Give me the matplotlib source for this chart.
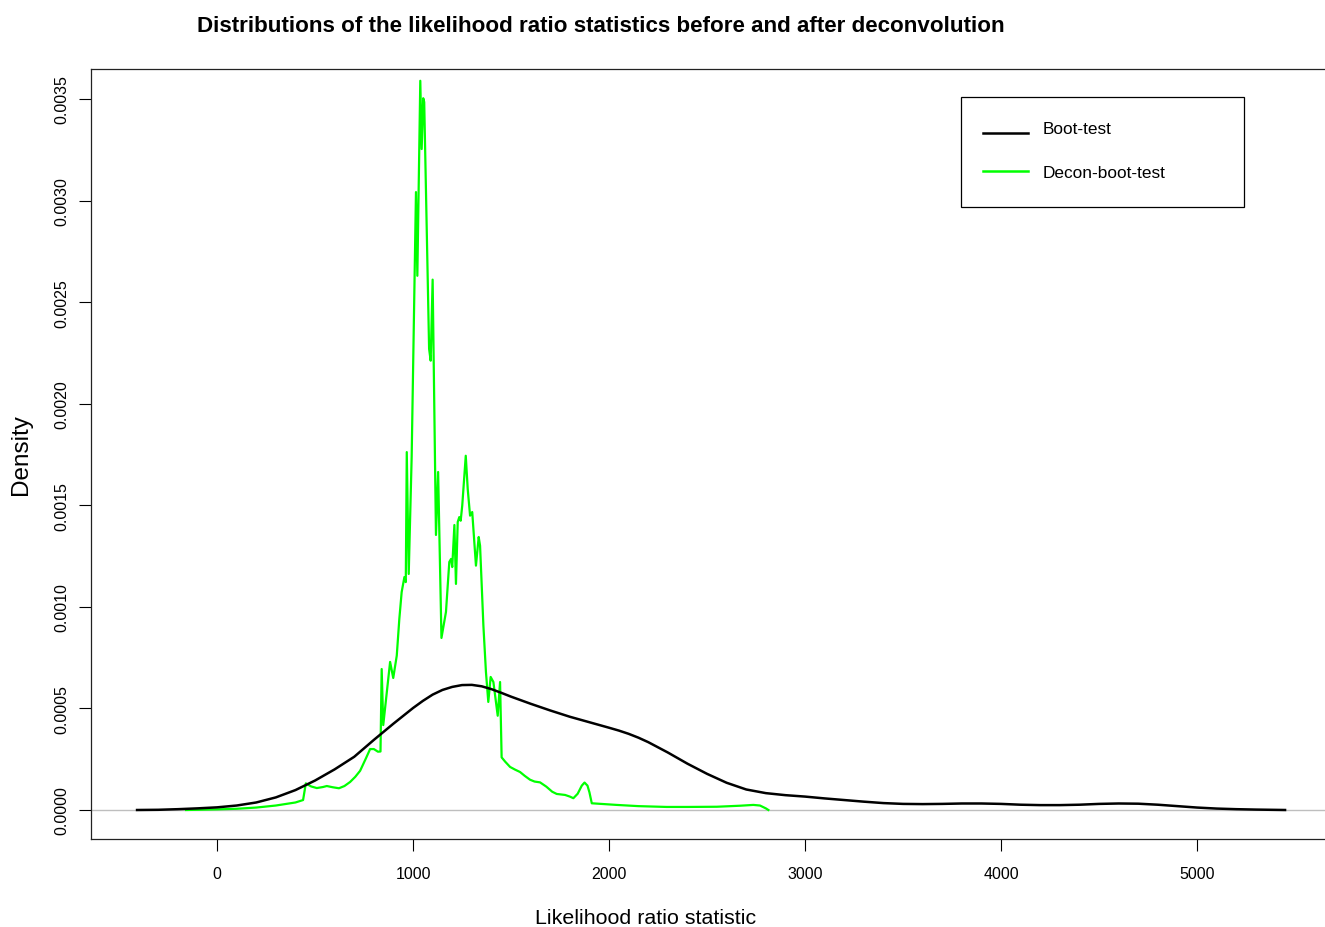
import matplotlib.pyplot as plt
from matplotlib.lines import Line2D
from matplotlib.patches import Rectangle

plt.rcParams['font.family'] = ['Liberation Sans', 'DejaVu Sans']

# Boot-test density (black)
boot_x = [-408, -300, -200, -100, 0, 100, 200, 300, 400, 500, 600, 700, 800,
          900, 1000, 1050, 1100, 1150, 1200, 1250, 1300, 1350, 1400, 1450,
          1500, 1600, 1700, 1800, 1900, 2000, 2050, 2100, 2150, 2200, 2300,
          2400, 2500, 2600, 2700, 2800, 2900, 3000, 3100, 3200, 3300, 3400,
          3500, 3600, 3700, 3800, 3900, 4000, 4100, 4200, 4300, 4400, 4500,
          4600, 4700, 4800, 4900, 5000, 5100, 5200, 5300, 5449]
boot_y = [0.0, 0.000001, 0.000004, 0.000008, 0.000013, 0.000022, 0.000037,
          0.000062, 0.000098, 0.000145, 0.000200, 0.000262, 0.000345,
          0.000425, 0.000502, 0.000537, 0.000568, 0.000591, 0.000606,
          0.000615, 0.000616, 0.000609, 0.000595, 0.000577, 0.000558,
          0.000523, 0.000490, 0.000459, 0.000432, 0.000405, 0.000391,
          0.000375, 0.000356, 0.000334, 0.000283, 0.000228, 0.000178,
          0.000134, 0.000101, 0.000083, 0.000073, 0.000066, 0.000057,
          0.000049, 0.000041, 0.000034, 0.000030, 0.000029, 0.000030,
          0.000032, 0.000032, 0.000030, 0.000026, 0.000024, 0.000024,
          0.000026, 0.000030, 0.000032, 0.000031, 0.000026, 0.000019,
          0.000012, 0.000007, 0.000004, 0.000002, 0.0]

# Decon-boot-test density (green)
decon_x = [-158, 0, 100, 200, 300, 400, 439, 453, 480, 509, 540, 560, 590,
           622, 650, 679, 705, 730, 760, 781, 800, 821, 834, 840,
           848, 883, 899, 917, 930, 942, 956, 963, 968, 978, 993, 1015, 1022,
           1037, 1044, 1052, 1057, 1082, 1090, 1100, 1117, 1128, 1145, 1168,
           1185, 1194, 1200, 1211, 1219, 1228, 1236, 1243, 1251, 1269, 1279,
           1291, 1302, 1321, 1335, 1342, 1359, 1372, 1384, 1396, 1410, 1423,
           1432, 1444, 1452, 1470, 1495, 1520, 1546, 1570, 1597, 1620, 1648,
           1680, 1710, 1733, 1776, 1800, 1818, 1840, 1861, 1875, 1890, 1900,
           1912, 2039, 2150, 2294, 2400, 2550, 2668, 2736, 2770, 2800, 2813]
decon_y = [0.0, 0.000003, 0.000006, 0.000012, 0.000022, 0.000037, 0.000049,
           0.000131, 0.000116, 0.000108, 0.000113, 0.000118, 0.000112,
           0.000107, 0.000118, 0.000138, 0.000163, 0.000193, 0.000255,
           0.000300, 0.000300, 0.000287, 0.000288, 0.000694,
           0.000418, 0.000729, 0.000650, 0.000760, 0.000940, 0.001073,
           0.001147, 0.001122, 0.001762, 0.001162, 0.001738, 0.003042,
           0.002630, 0.003590, 0.003254, 0.003504, 0.003485, 0.002270,
           0.002212, 0.002611, 0.001354, 0.001664, 0.000847, 0.000975,
           0.001221, 0.001236, 0.001196, 0.001403, 0.001113, 0.001418,
           0.001442, 0.001424, 0.001498, 0.001744, 0.001580, 0.001449,
           0.001467, 0.001203, 0.001344, 0.001301, 0.000907, 0.000679,
           0.000532, 0.000655, 0.000630, 0.000532, 0.000464, 0.000630,
           0.000259, 0.000238, 0.000212, 0.000199, 0.000187, 0.000168,
           0.000149, 0.000140, 0.000136, 0.000115, 0.000090, 0.000079,
           0.000074, 0.000066, 0.000058, 0.000080, 0.000120, 0.000135,
           0.000120, 0.000087, 0.000033, 0.000025, 0.000019, 0.000015,
           0.000015, 0.000016, 0.000021, 0.000025, 0.000022, 0.000008, 0.0]

x_ticks = [0, 1000, 2000, 3000, 4000, 5000]
y_ticks = [0.0, 0.0005, 0.0010, 0.0015, 0.0020, 0.0025, 0.0030, 0.0035]
y_ticklabels = ['0.0000', '0.0005', '0.0010', '0.0015', '0.0020', '0.0025',
                '0.0030', '0.0035']

W, H = 1325, 928


def fpos(px, py):
    # pixel position -> figure fraction
    return px / W, 1 - py / H


fig = plt.figure(figsize=(W / 100, H / 100), dpi=100)
ax = fig.add_axes([91 / W, 88 / H, 1236 / W, 770 / H])  # llx, lly, w, h

ax.axhline(0, color='#bebebe', lw=1, zorder=1)
ax.plot(boot_x, boot_y, color='black', lw=1.8, zorder=3)
ax.plot(decon_x, decon_y, color='#00ff00', lw=1.6, zorder=2)

ax.set_xlim(-643, 5663)
ax.set_ylim(-0.0001428, 0.003648)
ax.set_xticks(x_ticks)
ax.set_xticklabels([str(t) for t in x_ticks], fontsize=11.5)
ax.set_yticks(y_ticks)
ax.set_yticklabels(y_ticklabels, fontsize=11.5, rotation=90, va='center')
ax.tick_params(axis='x', length=8.5, width=0.8, pad=11)
ax.tick_params(axis='y', length=8.5, width=0.8, pad=7)
for sp in ax.spines.values():
    sp.set_linewidth(0.9)
    sp.set_color('#222222')

fig.text(*fpos(601, 27), 'Distributions of the likelihood ratio statistics '
         'before and after deconvolution', ha='center', va='center',
         fontsize=16.1, fontweight='bold')
fig.text(*fpos(646, 919), 'Likelihood ratio statistic', ha='center',
         va='center', fontsize=15.4)
fig.text(*fpos(21, 455), 'Density', ha='center', va='center',
         fontsize=17.5, rotation=90)

# legend drawn by hand
x0, y0 = fpos(961, 208)
x1, y1 = fpos(1244, 98)
fig.add_artist(Rectangle((x0, y0), x1 - x0, y1 - y0, transform=fig.transFigure,
                         facecolor='white', edgecolor='black', lw=0.9))
for (lab, col, ly, ty) in (('Boot-test', 'black', 134, 129),
                           ('Decon-boot-test', '#00ff00', 172, 174)):
    a, b = fpos(983, ly)
    c, _ = fpos(1028, ly)
    fig.add_artist(Line2D([a, c], [b, b], color=col, lw=1.8,
                          transform=fig.transFigure))
    fig.text(*fpos(1043, ty), lab, ha='left', va='center', fontsize=12.4)

fig.savefig('out.png', dpi=100)
